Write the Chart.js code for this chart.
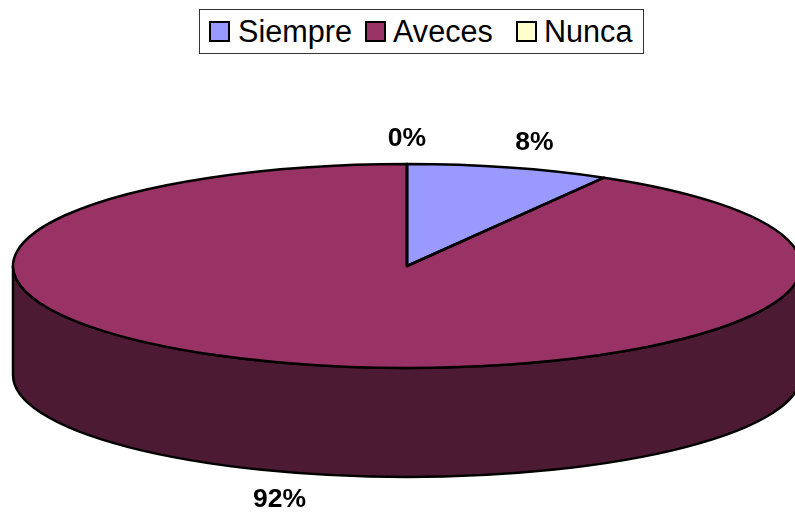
<!DOCTYPE html>
<html lang="es">
<head>
<meta charset="utf-8">
<title>Siempre, Aveces, Nunca</title>
<script src="https://cdn.jsdelivr.net/npm/chart.js@4"></script>
<style>
  html, body { margin: 0; padding: 0; background: #fff; overflow: hidden; }
  #wrap { position: relative; width: 795px; height: 514px; }
  #pie { display: block; }
  #legend {
    position: absolute; left: 199px; top: 9px; width: 443px; height: 43px;
    border: 1px solid #333; background: #fff;
    font: 30.6px "Liberation Sans", Arial, sans-serif; color: #000;
  }
  #legend span { position: absolute; top: 1px; line-height: 40px; white-space: nowrap; }
  #legend i { position: absolute; top: 11px; width: 17px; height: 17px; border: 2.5px solid #000; }
</style>
</head>
<body>
<div id="wrap">
  <canvas id="pie" width="795" height="514"></canvas>
  <div id="legend"></div>
</div>
<script>
// Datos
const categorias = ['Siempre', 'Aveces', 'Nunca'];
const valores = [2, 22, 0];
const colores = ['#9999FF', '#993366', '#FFFFCC'];
const colorLado = '#4D1A33';

// Forma del disco en pantalla
const radioX = 394;
const radioY = 102;
const grosor = 109;

// Leyenda
const leyendaCaja = [9, 165, 316];
const leyendaTexto = [38, 193, 344];
const legend = document.getElementById('legend');
categorias.forEach((c, i) => {
  const box = document.createElement('i');
  box.style.left = leyendaCaja[i] + 'px';
  box.style.background = colores[i];
  const txt = document.createElement('span');
  txt.style.left = leyendaTexto[i] + 'px';
  txt.textContent = c;
  legend.append(box, txt);
});

// Aplana el pie y dibuja el lado, los bordes y las etiquetas
const disco3d = {
  id: 'disco3d',
  beforeDatasetsDraw(chart) {
    const ctx = chart.ctx;
    const arcs = chart.getDatasetMeta(0).data;
    const { x, y, outerRadius } = arcs[0];

    arcs.forEach(arc => {
      const a0 = Math.max(arc.startAngle, 0);
      const a1 = Math.min(arc.endAngle, Math.PI);
      if (a1 <= a0) return;
      ctx.beginPath();
      ctx.ellipse(x, y, radioX, radioY, 0, a0, a1);
      ctx.ellipse(x, y + grosor, radioX, radioY, 0, a1, a0, true);
      ctx.closePath();
      ctx.fillStyle = colorLado;
      ctx.fill();
      ctx.lineWidth = 2.5;
      ctx.strokeStyle = '#000';
      ctx.stroke();
    });

    ctx.save();
    ctx.translate(x, y);
    ctx.scale(radioX / outerRadius, radioY / outerRadius);
    ctx.translate(-x, -y);
  },
  afterDatasetsDraw(chart) {
    const ctx = chart.ctx;
    ctx.restore();
    const arcs = chart.getDatasetMeta(0).data;
    const total = valores.reduce((a, b) => a + b, 0);

    arcs.forEach(arc => {
      ctx.beginPath();
      ctx.moveTo(arc.x, arc.y);
      ctx.ellipse(arc.x, arc.y, radioX, radioY, 0, arc.startAngle, arc.endAngle);
      ctx.closePath();
      ctx.lineWidth = 2.5;
      ctx.lineJoin = 'round';
      ctx.strokeStyle = '#000';
      ctx.stroke();
    });

    ctx.font = 'bold 26.5px "Liberation Sans", Arial, sans-serif';
    ctx.fillStyle = '#000';
    ctx.textAlign = 'center';
    ctx.textBaseline = 'middle';
    arcs.forEach((arc, i) => {
      const mid = (arc.startAngle + arc.endAngle) / 2;
      const s = Math.sin(mid);
      const lx = arc.x + 1.25 * radioX * Math.cos(mid);
      const ly = arc.y + radioY * s + (s > 0 ? grosor + 26 : -25);
      ctx.fillText(Math.round(valores[i] / total * 100) + '%', lx, ly);
    });
  }
};

const ctxPie = document.getElementById('pie').getContext('2d');
const pieChart = new Chart(ctxPie, {
  type: 'pie',
  data: {
    labels: categorias,
    datasets: [{
      data: valores,
      backgroundColor: colores,
      borderWidth: 0,
      clip: false
    }]
  },
  options: {
    responsive: false,
    animation: false,
    layout: { padding: { left: 19, right: 0, top: 66, bottom: 48 } },
    plugins: {
      legend: { display: false },
      tooltip: { enabled: false }
    }
  },
  plugins: [disco3d]
});
</script>
</body>
</html>
